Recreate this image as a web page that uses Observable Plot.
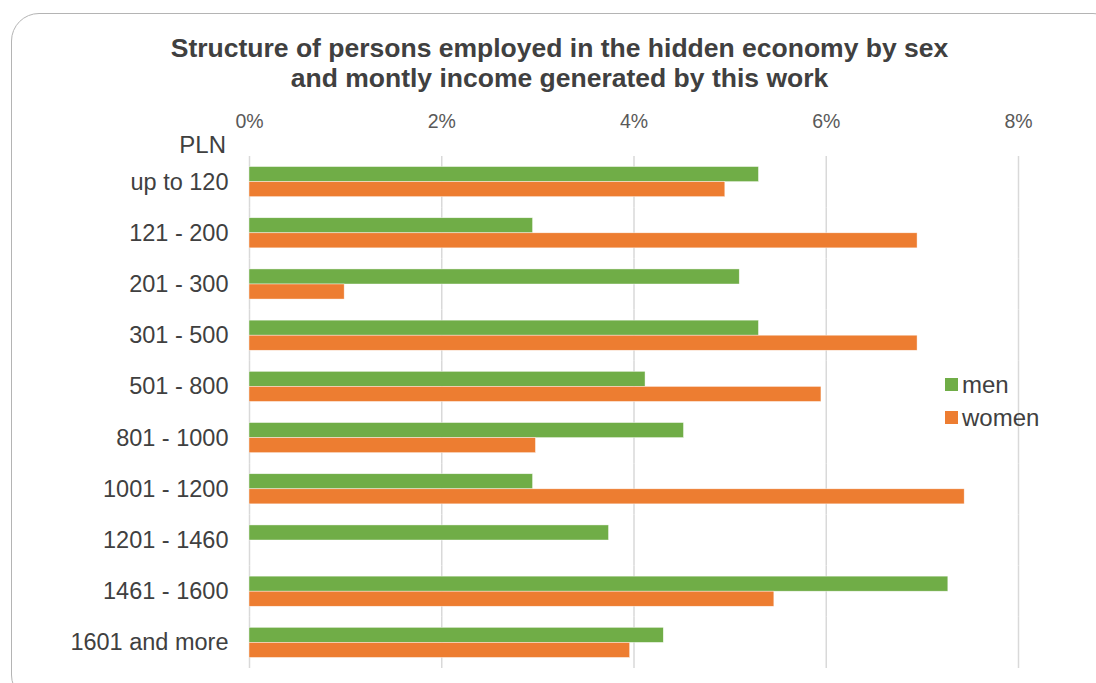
<!DOCTYPE html>
<html>
<head>
<meta charset="utf-8">
<script src="https://cdn.jsdelivr.net/npm/d3@7"></script>
<script src="https://cdn.jsdelivr.net/npm/@observablehq/plot@0.6"></script>
<style>
  html, body { margin: 0; padding: 0; background: #fff; }
  #wrap { position: relative; width: 1096px; height: 683px; overflow: hidden; font-family: "Liberation Sans", Arial, sans-serif; }
  #frame { position: absolute; left: 11px; top: 13px; width: 1110px; height: 690px; border: 1.5px solid #b4b4b4; border-radius: 28px; box-sizing: border-box; }
  #title { position: absolute; left: 0; width: 1119px; top: 33px; text-align: center; font-weight: bold; font-size: 26.5px; line-height: 30px; color: #404040; }
  #pln { position: absolute; right: 870px; top: 131px; font-size: 24px; color: #404040; }
  #legend { position: absolute; left: 945px; top: 368px; font-size: 24px; color: #404040; }
  #legend div { display: flex; align-items: center; height: 33px; }
  #legend span.sw { display: inline-block; width: 13px; height: 13px; margin-right: 4px; }
  #chart { position: absolute; left: 0; top: 0; }
  #chart svg { background: transparent; }
</style>
</head>
<body>
<div id="wrap">
  <div id="frame"></div>
  <div id="chart"></div>
  <div id="title">Structure of persons employed in the hidden economy by sex<br>and montly income generated by this work</div>
  <div id="pln">PLN</div>
  <div id="legend"></div>
</div>
<script>
const categories = ["up to 120", "121 - 200", "201 - 300", "301 - 500", "501 - 800", "801 - 1000", "1001 - 1200", "1201 - 1460", "1461 - 1600", "1601 and more"];
const series = ["men", "women"];
const colors = ["#70AD47", "#ED7D31"];
const menValues = [5.30, 2.95, 5.10, 5.30, 4.12, 4.52, 2.95, 3.74, 7.27, 4.31];
const womenValues = [4.95, 6.95, 0.99, 6.95, 5.95, 2.98, 7.44, 0, 5.46, 3.96];
const xTicks = [0, 2, 4, 6, 8];

const data = [];
categories.forEach((c, i) => {
  data.push({category: c, sex: "men", value: menValues[i]});
  data.push({category: c, sex: "women", value: womenValues[i]});
});

const chart = Plot.plot({
  width: 1096,
  height: 683,
  marginLeft: 249,
  marginRight: 78,
  marginTop: 156,
  marginBottom: 15,
  style: {background: "transparent", fontFamily: "'Liberation Sans', Arial, sans-serif", color: "#595959"},
  x: {domain: [0, 8]},
  fy: {domain: categories, padding: 0, round: false, label: null},
  y: {domain: series, paddingInner: 0, paddingOuter: 0.7, round: false, axis: null},
  color: {domain: series, range: colors},
  marks: [
    Plot.gridX(xTicks, {stroke: "#d9d9d9", strokeOpacity: 1, strokeWidth: 1.5}),
    Plot.barX(data, {x: "value", y: "sex", fy: "category", fill: "sex", stroke: "#ffffff", strokeWidth: 0.6, strokeOpacity: 0.7}),
    Plot.axisX(xTicks, {anchor: "top", tickSize: 0, tickPadding: 29, tickFormat: d => d + "%", fontSize: 19.5, fill: "#595959", label: null}),
    Plot.axisFy({anchor: "left", tickSize: 0, tickPadding: 21, fontSize: 23.5, fill: "#404040", label: null})
  ]
});
document.getElementById("chart").appendChild(chart);

const legend = document.getElementById("legend");
series.forEach((s, i) => {
  const row = document.createElement("div");
  const sw = document.createElement("span");
  sw.className = "sw";
  sw.style.background = colors[i];
  row.appendChild(sw);
  row.appendChild(document.createTextNode(s));
  legend.appendChild(row);
});
</script>
</body>
</html>
